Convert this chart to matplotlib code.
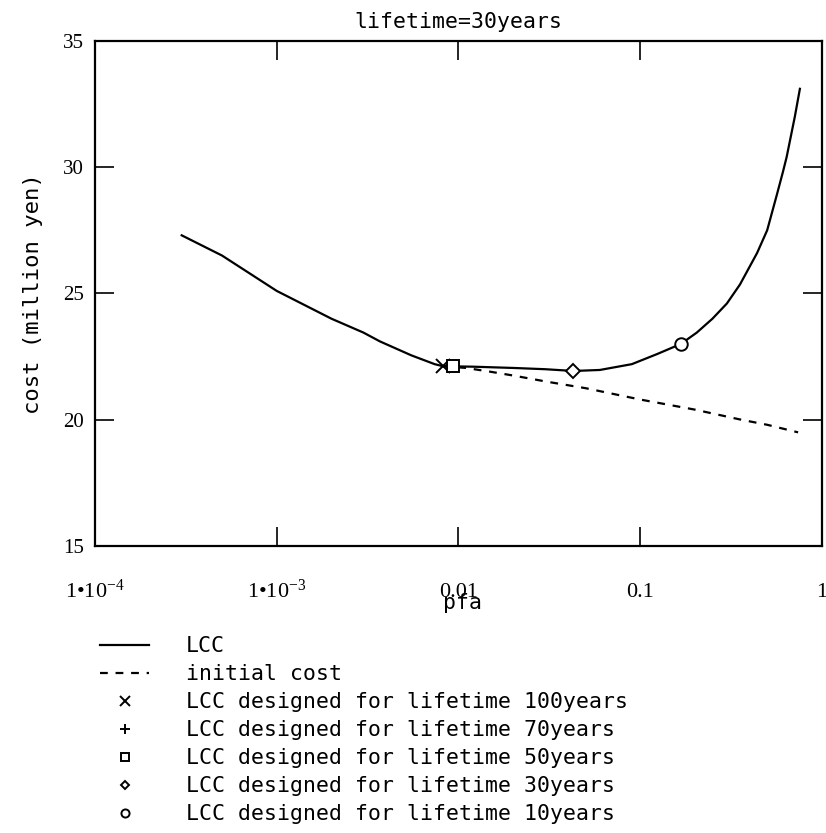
import numpy as np
import matplotlib
matplotlib.use('Agg')
import matplotlib.pyplot as plt
from matplotlib.ticker import FixedLocator, NullLocator

# LCC y costo inicial vs pfa
pfa_lcc = [0.0003, 0.0005, 0.001, 0.002, 0.003, 0.0037, 0.0055, 0.0074, 0.0082, 0.012,
           0.02, 0.03, 0.043, 0.06, 0.09, 0.124, 0.1675, 0.205, 0.25, 0.30, 0.354, 0.44,
           0.50, 0.565, 0.61, 0.64, 0.71, 0.757]
lcc = [27.3, 26.5, 25.1, 24.0, 23.45, 23.1, 22.55, 22.2, 22.12, 22.1,
       22.05, 22.0, 21.93, 21.97, 22.2, 22.6, 23.0, 23.45, 24.0, 24.6, 25.35, 26.6,
       27.5, 28.9, 29.8, 30.4, 32.0, 33.1]

pfa_ini = [0.0082, 0.011, 0.015, 0.02, 0.031, 0.05, 0.1, 0.2, 0.36, 0.5, 0.74]
ini = [22.12, 22.05, 21.9, 21.75, 21.5, 21.25, 20.8, 20.4, 20.0, 19.8, 19.5]

# puntos de diseno
vida = [100, 70, 50, 30, 10]
pfa_dis = [0.0082, 0.0088, 0.0093, 0.0427, 0.1675]
lcc_dis = [22.12, 22.12, 22.12, 21.93, 23.0]
marcas = ['x', '+', 's', 'D', 'o']
tam = [10, 10, 9, 7, 9]

xticks = [1e-4, 1e-3, 0.01, 0.1, 1]
xlabels = ['1•10$^{\\mathregular{-4}}$', '1•10$^{\\mathregular{-3}}$', '0.01', '0.1', '1']
yticks = [15, 20, 25, 30, 35]

mono = 'DejaVu Sans Mono'
serif = 'Liberation Serif'
matplotlib.rcParams.update({'mathtext.fontset': 'custom', 'mathtext.rm': serif,
                            'mathtext.it': serif, 'mathtext.bf': serif})

fig = plt.figure(figsize=(8.26, 8.33), dpi=100)
ax = fig.add_axes([0.115, 0.3445, 0.88, 0.6065])

handles = []
h1, = ax.plot(pfa_lcc, lcc, color='black', lw=1.6)
h2, = ax.plot(pfa_ini, ini, color='black', lw=1.6, linestyle=(0, (3.5, 3.5)))
handles += [h1, h2]
for p, c, m, s in zip(pfa_dis, lcc_dis, marcas, tam):
    h, = ax.plot([p], [c], linestyle='none', marker=m, ms=s, mfc='white',
                 mec='black', mew=1.4)
    handles.append(h)

ax.set_xscale('log')
ax.set_xlim(1e-4, 1)
ax.set_ylim(15, 35)
ax.xaxis.set_major_locator(FixedLocator(xticks))
ax.xaxis.set_minor_locator(NullLocator())
ax.set_xticklabels(xlabels, fontfamily=serif, fontsize=16, va='baseline')
ax.set_yticks(yticks)
ax.set_yticklabels([str(v) for v in yticks], fontfamily=serif, fontsize=15)
ax.tick_params(axis='x', direction='in', length=14, width=1.2, top=True, pad=37)
ax.tick_params(axis='y', direction='in', length=14, width=1.2, right=True, pad=8)
for s in ax.spines.values():
    s.set_linewidth(1.6)

ax.set_title('lifetime=30years', fontfamily=mono, fontsize=15.5, pad=9)
ax.set_ylabel('cost (million yen)', fontfamily=mono, fontsize=16, labelpad=14)
ax.set_xlabel('pfa', fontfamily=mono, fontsize=15.5)
ax.xaxis.set_label_coords(0.505, -0.113)
ax.xaxis.label.set_va('center')

labels = ['LCC', 'initial cost'] + [f'LCC designed for lifetime {v}years' for v in vida]
leg = ax.legend(handles, labels, loc='upper left', bbox_to_anchor=(0.108, 0.249),
                bbox_transform=fig.transFigure, frameon=False, borderpad=0,
                handlelength=2.3, handletextpad=1.7, labelspacing=0.37,
                markerscale=0.65, prop={'family': mono, 'size': 15.5})

fig.savefig('out.png', dpi=100)
